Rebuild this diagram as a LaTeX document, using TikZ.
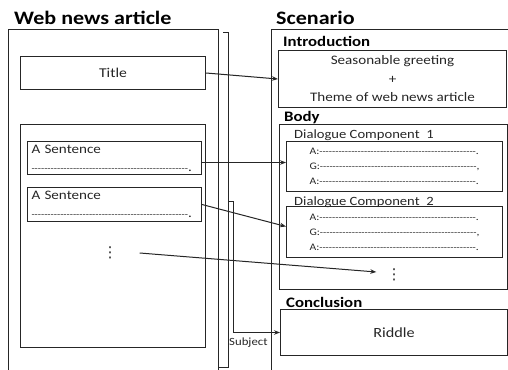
\documentclass[tikz,border=0pt]{standalone}
\usepackage{fontspec}
\setmainfont{Carlito}[FakeStretch=1.16]
\newfontfamily\dotsfont{DejaVu Sans}
\usetikzlibrary{arrows.meta}

\newcommand\dashrow[1]{\mbox{\fontsize{9}{9}\selectfont\foreach\k in {1,...,#1}{-\kern0pt}}}

\tikzset{
	box/.style={draw=black!85, line width=1pt, rectangle, inner sep=0pt, anchor=north west, text=black!85},
	head/.style={font=\fontsize{19}{21}\selectfont\bfseries, anchor=base west, inner sep=0pt},
	part/.style={font=\fontsize{14.5}{16}\selectfont\bfseries, anchor=base west, inner sep=0pt},
	comp/.style={font=\fontsize{12.6}{14}\selectfont, anchor=base west, inner sep=0pt, text=black!85},
	more/.style={inner sep=0pt, font=\fontsize{15}{15}\dotsfont, text=black!85},
	line/.style={draw=black!85, line width=1pt},
	arr/.style={line, -{Stealth[length=6pt,width=4.5pt]}}
}

\begin{document}
\begin{tikzpicture}[x=1pt, y=-1pt]
	\useasboundingbox (0,0) rectangle (508,369);
	\clip (0,0) rectangle (508,369);

	% Web news article
	\node[head] (webhead) at (14,25) {Web news article};
	\draw[line] (8,380) -- (8,30) -- (218,30) -- (218,380);
	\draw[line] (223,33) -- (228,33) -- (228,367) -- (218,367);

	\node[box, minimum width=185pt, minimum height=33pt, font=\fontsize{13.5}{15}\selectfont] (title) at (20,56) {Title};
	\node[box, minimum width=185pt, minimum height=223pt] (sentences) at (20,124) {};
	\node[box, minimum height=33pt, text width=166pt, inner xsep=4pt, align=left, font=\fontsize{13}{18}\selectfont] (sentA) at (27,141) {A Sentence\\\dashrow{49}.};
	\node[box, minimum height=34pt, text width=166pt, inner xsep=4pt, align=left, font=\fontsize{13}{18}\selectfont] (sentB) at (27,187) {A Sentence\\\dashrow{49}.};
	\node[more] (moreL) at (110,253) {⋮};

	% Scenario
	\node[head] (scenhead) at (276,25) {Scenario};
	\draw[line] (520,30) -- (271,30) -- (271,380);

	\node[part] (introhead) at (283,47) {Introduction};
	\node[box, minimum width=228pt, minimum height=57pt, align=center, font=\fontsize{13}{18.5}\selectfont] (intro) at (278,50) {Seasonable greeting\\+\\Theme of web news article};

	\node[part] (bodyhead) at (284,121) {Body};
	\node[box, minimum width=228pt, minimum height=165pt] (body) at (279,124) {};
	\node[comp] (dc1head) at (294,138) {Dialogue Component\ \ 1};
	\node[box, minimum width=216pt, minimum height=50pt, align=left, font=\fontsize{10}{15}\selectfont] (dc1) at (286,141) {A:\dashrow{49}.\\G:\dashrow{49},\\A:\dashrow{49}.};
	\node[comp] (dc2head) at (294,205) {Dialogue Component\ \ 2};
	\node[box, minimum width=216pt, minimum height=51pt, align=left, font=\fontsize{10}{15}\selectfont] (dc2) at (286,206) {A:\dashrow{49}.\\G:\dashrow{49},\\A:\dashrow{49}.};
	\node[more] (moreR) at (394,275) {⋮};

	\node[part] (conclhead) at (286,307) {Conclusion};
	\node[box, minimum width=227pt, minimum height=46pt, font=\fontsize{14}{16}\selectfont] (riddle) at (280,309) {Riddle};

	% Connectors
	\draw[arr] (title.east) -- (intro.west);
	\draw[arr] ([yshift=-4.5pt]sentA.east) -- ([yshift=4pt]dc1.west);
	\draw[arr] (sentB.east) -- ([yshift=5.5pt]dc2.west);
	\draw[arr] ([xshift=22pt]moreL.east) -- ([xshift=-10pt, yshift=3pt]moreR.west);

	\coordinate (subjtop) at (228,201);
	\draw[arr] (subjtop) -- ++(5,0) |- (riddle.west);
	\node[anchor=base west, inner sep=0pt, font=\fontsize{11}{12}\selectfont, text=black!85] (subject) at (229,345) {Subject};
\end{tikzpicture}
\end{document}
